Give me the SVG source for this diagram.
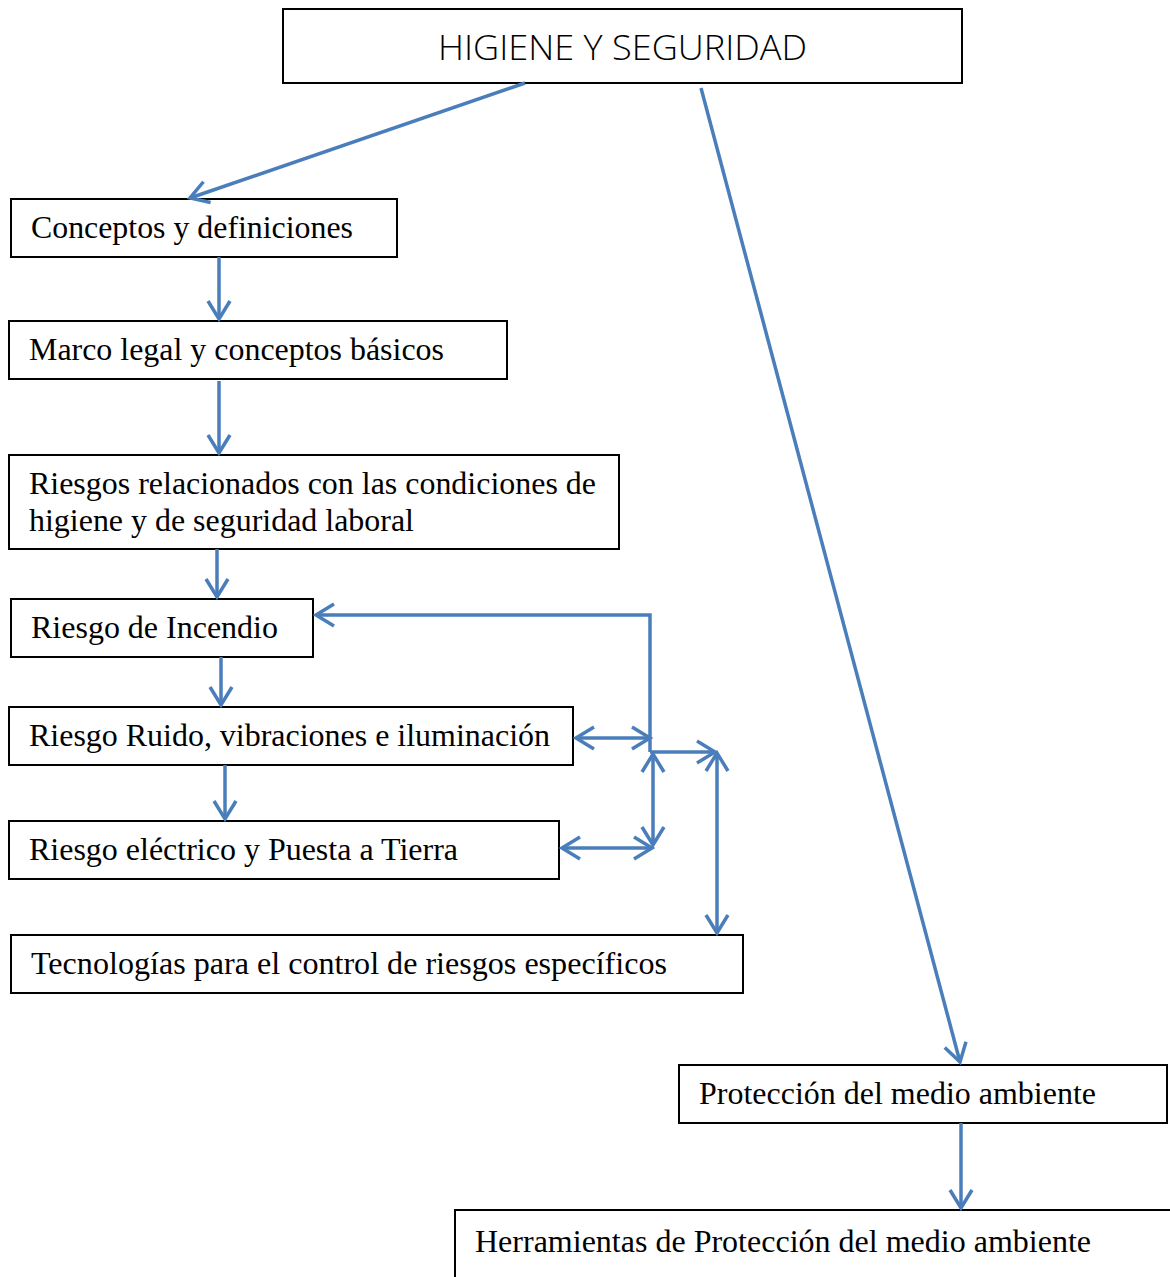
<svg xmlns="http://www.w3.org/2000/svg" width="1170" height="1277" viewBox="0 0 1170 1277">
<style>
.box{fill:#fff;stroke:#000;stroke-width:2}
.t{font-family:"Liberation Serif","Times New Roman",serif;font-size:31px;fill:#000}
.h{font-family:"Open Sans","Liberation Sans",sans-serif;font-weight:300;font-size:35px;fill:#000}
.c{fill:none;stroke:#4a7ebb;stroke-width:3.5}
</style>
<defs>
<marker id="a" markerUnits="userSpaceOnUse" viewBox="-22 -14 26 28" markerWidth="26" markerHeight="28" refX="0" refY="0" orient="auto-start-reverse" overflow="visible">
<path d="M-18,-11 L0,0 L-18,11" fill="none" stroke="#4a7ebb" stroke-width="3.5"/>
</marker>
</defs>
<rect width="1170" height="1277" fill="#fff"/>
<g id="n-higiene"><rect class="box" x="283" y="9" width="679" height="74"/><text class="h" x="438" y="60" textLength="369" lengthAdjust="spacingAndGlyphs">HIGIENE Y SEGURIDAD</text></g>
<g id="n-conceptos"><rect class="box" x="11" y="199" width="386" height="58"/><text class="t" x="31" y="238" textLength="322" lengthAdjust="spacingAndGlyphs">Conceptos y definiciones</text></g>
<g id="n-marco"><rect class="box" x="9" y="321" width="498" height="58"/><text class="t" x="29" y="360" textLength="415" lengthAdjust="spacingAndGlyphs">Marco legal y conceptos básicos</text></g>
<g id="n-riesgos"><rect class="box" x="9" y="455" width="610" height="94"/><text class="t" x="29" y="494" textLength="567" lengthAdjust="spacingAndGlyphs">Riesgos relacionados con las condiciones de</text><text class="t" x="29" y="531" textLength="385" lengthAdjust="spacingAndGlyphs">higiene y de seguridad laboral</text></g>
<g id="n-incendio"><rect class="box" x="11" y="599" width="302" height="58"/><text class="t" x="31" y="638" textLength="247" lengthAdjust="spacingAndGlyphs">Riesgo de Incendio</text></g>
<g id="n-ruido"><rect class="box" x="9" y="707" width="564" height="58"/><text class="t" x="29" y="746" textLength="521" lengthAdjust="spacingAndGlyphs">Riesgo Ruido, vibraciones e iluminación</text></g>
<g id="n-electrico"><rect class="box" x="9" y="821" width="550" height="58"/><text class="t" x="29" y="860" textLength="429" lengthAdjust="spacingAndGlyphs">Riesgo eléctrico y Puesta a Tierra</text></g>
<g id="n-tecnologias"><rect class="box" x="11" y="935" width="732" height="58"/><text class="t" x="31" y="974" textLength="636" lengthAdjust="spacingAndGlyphs">Tecnologías para el control de riesgos específicos</text></g>
<g id="n-proteccion"><rect class="box" x="679" y="1065" width="488" height="58"/><text class="t" x="699" y="1104" textLength="397" lengthAdjust="spacingAndGlyphs">Protección del medio ambiente</text></g>
<g id="n-herramientas"><rect class="box" x="455" y="1210" width="730" height="80"/><text class="t" x="475" y="1252" textLength="616" lengthAdjust="spacingAndGlyphs">Herramientas de Protección del medio ambiente</text></g>
<g id="connectors">
<line class="c" x1="525" y1="83" x2="190" y2="198" marker-end="url(#a)"/>
<line class="c" x1="701" y1="88" x2="960" y2="1062" marker-end="url(#a)"/>
<line class="c" x1="219" y1="257" x2="219" y2="319" marker-end="url(#a)"/>
<line class="c" x1="219" y1="381" x2="219" y2="453" marker-end="url(#a)"/>
<line class="c" x1="217" y1="549" x2="217" y2="597" marker-end="url(#a)"/>
<line class="c" x1="221" y1="657" x2="221" y2="705" marker-end="url(#a)"/>
<line class="c" x1="225" y1="765" x2="225" y2="819" marker-end="url(#a)"/>
<line class="c" x1="961" y1="1123" x2="961" y2="1208" marker-end="url(#a)"/>
<polyline class="c" points="650,752 650,615 316,615" marker-end="url(#a)"/>
<polyline class="c" points="650,752 715,752" marker-end="url(#a)"/>
<line class="c" x1="576" y1="738" x2="650" y2="738" marker-start="url(#a)" marker-end="url(#a)"/>
<line class="c" x1="653" y1="754" x2="653" y2="845" marker-start="url(#a)" marker-end="url(#a)"/>
<line class="c" x1="562" y1="848" x2="652" y2="848" marker-start="url(#a)" marker-end="url(#a)"/>
<line class="c" x1="717" y1="753" x2="717" y2="933" marker-start="url(#a)" marker-end="url(#a)"/>
</g>
</svg>
